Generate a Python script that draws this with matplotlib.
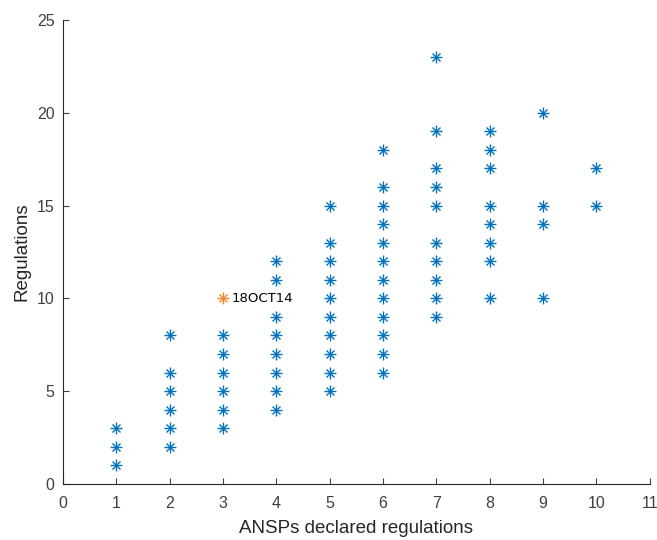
import matplotlib
matplotlib.use("Agg")
import matplotlib.pyplot as plt

plt.rcParams['font.family'] = ['Liberation Sans', 'DejaVu Sans']

# declared regulations (x) vs regulations (y), one list per column
cols = {
    1: [1, 2, 3],
    2: [2, 3, 4, 5, 6, 8],
    3: [3, 4, 5, 6, 7, 8],
    4: [4, 5, 6, 7, 8, 9, 11, 12],
    5: [5, 6, 7, 8, 9, 10, 11, 12, 13, 15],
    6: [6, 7, 8, 9, 10, 11, 12, 13, 14, 15, 16, 18],
    7: [9, 10, 11, 12, 13, 15, 16, 17, 19, 23],
    8: [10, 12, 13, 14, 15, 17, 18, 19],
    9: [10, 14, 15, 20],
    10: [15, 17],
}
hl_x = [3]
hl_y = [10]
hl_label = '18OCT14'

X = []
Y = []
for k, v in cols.items():
    X += [k] * len(v)
    Y += v

fig = plt.figure(figsize=(6.57, 5.40), dpi=100)
ax = fig.add_axes([0.096, 0.104, 0.893, 0.859])


def asterisk(x, y, c):
    # matlab style '*' = plus + cross
    ax.plot(x, y, '+', color=c, markersize=8.5, markeredgewidth=1.0)
    ax.plot(x, y, 'x', color=c, markersize=6, markeredgewidth=1.0)


asterisk(X, Y, '#0072BD')
asterisk(hl_x, hl_y, '#F5832A')
ax.text(hl_x[0] + 0.16, hl_y[0], hl_label, fontsize=9.5, va='center',
        family=['DejaVu Sans'], color='black')

ax.set_xlim(0, 11)
ax.set_ylim(0, 25)
ax.set_xticks(range(0, 12))
ax.set_yticks(range(0, 26, 5))
ax.spines['top'].set_visible(False)
ax.spines['right'].set_visible(False)
for s in ['left', 'bottom']:
    ax.spines[s].set_color('#262626')
    ax.spines[s].set_linewidth(0.8)
ax.tick_params(direction='in', length=4, colors='#404040', labelsize=11.5)
ax.tick_params(axis='x', pad=9)
ax.tick_params(axis='y', pad=6)
ax.set_xlabel('ANSPs declared regulations', fontsize=13.5, color='#262626', labelpad=6)
ax.set_ylabel('Regulations', fontsize=13.5, color='#262626', labelpad=5)

fig.savefig('out.png', dpi=100)
